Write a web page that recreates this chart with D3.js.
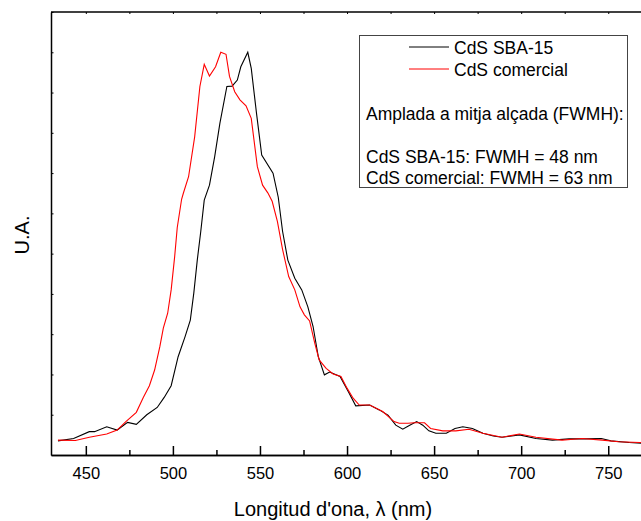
<!doctype html>
<html>
  <head>
    <script src="https://cdn.jsdelivr.net/npm/d3@7"></script>
    <style>
      body { margin: 0; background: #fff; }
      text { font-family: Arial, "Liberation Sans", sans-serif; fill: #000; }
    </style>
  </head>
  <body>
    <svg id="chart" width="641" height="521"></svg>

    <script>
      // wavelength (nm) / intensity (a.u.)
      var sbaWave = [434, 443, 452, 455, 462, 468, 474, 479, 485, 491, 495, 499, 503, 507, 510, 512, 514, 516, 518, 521, 524, 527, 531, 534, 537, 539, 543, 545, 548, 551, 557.5, 560.5, 563, 566, 570, 574, 577.5, 580.5, 583.5, 587, 590, 596, 601, 605, 613, 618.5, 623.5, 628, 632, 636, 640, 643.5, 647, 651, 657, 662, 666.5, 672, 678, 684, 689, 699, 708.5, 718, 727.5, 737, 746, 751.5, 762, 770, 780];
      var sbaVal  = [3.5, 4.1, 5.8, 5.8, 7.0, 6.2, 8.1, 7.6, 10.0, 11.8, 14.3, 17.2, 24.4, 29.4, 33.5, 40.2, 48.4, 55.5, 63.3, 67, 74.1, 82.4, 91.5, 91.6, 93.1, 96.4, 100, 96, 84.9, 74.5, 70, 64, 55.5, 48.4, 43.9, 41, 36.8, 31.9, 24.4, 19.9, 20.6, 19.5, 15.5, 12.2, 12.4, 11.2, 9.9, 7.4, 6.4, 7.4, 8.3, 7.4, 6.0, 5.4, 5.4, 6.6, 7.0, 6.6, 5.4, 4.7, 4.4, 5.0, 4.1, 3.7, 4.0, 4.0, 4.1, 3.5, 3.1, 2.9, 2.8];

      var comWave = [434, 444, 452, 462, 468, 473, 479, 483, 486.5, 489.5, 492.5, 494.5, 497, 499, 501, 502.5, 505, 506, 509, 512.5, 515.5, 518, 521, 524.5, 527.5, 530.5, 532.5, 535.5, 538.5, 542, 545, 548.5, 551.5, 554.5, 557, 560, 563, 566.5, 570, 573, 575.5, 578.5, 581.5, 584, 588, 592, 596.5, 600, 603.5, 607, 613, 620.5, 627, 630, 635, 638.5, 644.5, 648, 655, 662.5, 670, 678, 689, 699, 708.5, 723.5, 735, 746.5, 756, 768, 780];
      var comVal  = [3.7, 3.6, 4.4, 5.2, 6.2, 8.3, 10.6, 14.3, 17.2, 21.1, 26.9, 31.5, 35.2, 41, 49.2, 56.5, 63.5, 65, 69.1, 79, 91.5, 97, 94.1, 96.4, 100, 99.5, 94, 90.2, 88.2, 86.7, 83.6, 71.6, 67, 65.1, 63, 58, 51, 44.3, 41, 36.8, 34.8, 33.3, 27.7, 23.6, 21.5, 20.1, 19.5, 16.6, 14.1, 12.4, 12.4, 10.8, 8.3, 7.9, 7.9, 8.0, 8.0, 6.6, 6.0, 6.0, 6.4, 5.4, 4.4, 5.2, 4.4, 3.7, 4.1, 3.7, 3.3, 3.1, 3.0];

      var majorTicks = [450, 500, 550, 600, 650, 700, 750];
      var minorTicks = [475, 525, 575, 625, 675, 725, 775];
      var seriesNames = ["CdS SBA-15", "CdS comercial"];
      var seriesColors = ["#000000", "#ff0000"];
      var noteLines = ["Amplada a mitja alçada (FWMH):", "", "CdS SBA-15: FWMH = 48 nm", "CdS comercial: FWMH = 63 nm"];

      var svg = d3.select("#chart");

      var x = d3.scaleLinear().domain([430, 790]).range([51, 677.9]);
      var y = d3.scaleLinear().domain([0, 110]).range([455, 12]);

      // top frame line
      svg.append("line")
        .attr("x1", 51).attr("x2", 641)
        .attr("y1", 12).attr("y2", 12)
        .attr("stroke", "#000").attr("stroke-width", 1.5);

      // bottom axis, ticks pointing inward
      var bottomAxis = svg.append("g").attr("transform", "translate(0,455)");
      bottomAxis.call(d3.axisBottom(x).tickValues(majorTicks).tickSize(-9).tickSizeOuter(0).tickPadding(12));
      bottomAxis.append("g").call(d3.axisBottom(x).tickValues(minorTicks).tickSize(-5).tickSizeOuter(0).tickFormat(""));
      bottomAxis.selectAll("path.domain").attr("stroke-width", 1.5);
      bottomAxis.selectAll("line").attr("stroke-width", 1.5);
      bottomAxis.selectAll("text")
        .style("font-family", "Arial, 'Liberation Sans', sans-serif")
        .style("font-size", "16.5px");

      // small mirror ticks on top
      var topAxis = svg.append("g").attr("transform", "translate(0,12)");
      topAxis.call(d3.axisTop(x).tickValues(majorTicks.concat(minorTicks)).tickSize(-2).tickSizeOuter(0).tickFormat(""));
      topAxis.select("path.domain").remove();

      // left axis, no labels
      var leftAxis = svg.append("g").attr("transform", "translate(51,0)");
      leftAxis.call(d3.axisLeft(y).ticks(11).tickSize(-2.5).tickSizeOuter(0).tickFormat(""));
      leftAxis.selectAll("path.domain").attr("stroke-width", 1.5);
      leftAxis.selectAll("line").filter(function(d) { return d === 0; }).remove();

      var line = d3.line()
        .x(function(d) { return x(d[0]); })
        .y(function(d) { return y(d[1]); });

      var sbaData = d3.zip(sbaWave, sbaVal);
      var comData = d3.zip(comWave, comVal);

      svg.append("path")
        .datum(sbaData)
        .attr("fill", "none")
        .attr("stroke", seriesColors[0])
        .attr("stroke-width", 1.1)
        .attr("d", line);

      svg.append("path")
        .datum(comData)
        .attr("fill", "none")
        .attr("stroke", seriesColors[1])
        .attr("stroke-width", 1.1)
        .attr("d", line);

      // axis titles
      svg.append("text")
        .attr("x", 333).attr("y", 516)
        .attr("text-anchor", "middle")
        .style("font-size", "20px")
        .text("Longitud d'ona, λ (nm)");

      svg.append("text")
        .attr("transform", "translate(29,235) rotate(-90)")
        .attr("text-anchor", "middle")
        .style("font-size", "20px")
        .text("U.A.");

      // legend box
      var legend = svg.append("g");
      legend.append("rect")
        .attr("x", 359.5).attr("y", 35.5)
        .attr("width", 268).attr("height", 152)
        .attr("fill", "#fff")
        .attr("stroke", "#444").attr("stroke-width", 1);

      seriesNames.forEach(function(name, i) {
        var yy = 47 + i * 22;
        legend.append("line")
          .attr("x1", 409).attr("x2", 449)
          .attr("y1", yy).attr("y2", yy)
          .attr("stroke", seriesColors[i]).attr("stroke-width", 1);
        legend.append("text")
          .attr("x", 454).attr("y", yy + 7)
          .style("font-size", "17.5px")
          .text(name);
      });

      noteLines.forEach(function(t, i) {
        legend.append("text")
          .attr("x", 366).attr("y", 119.5 + i * 21.5)
          .style("font-size", "17.5px")
          .text(t);
      });
    </script>
  </body>
</html>
